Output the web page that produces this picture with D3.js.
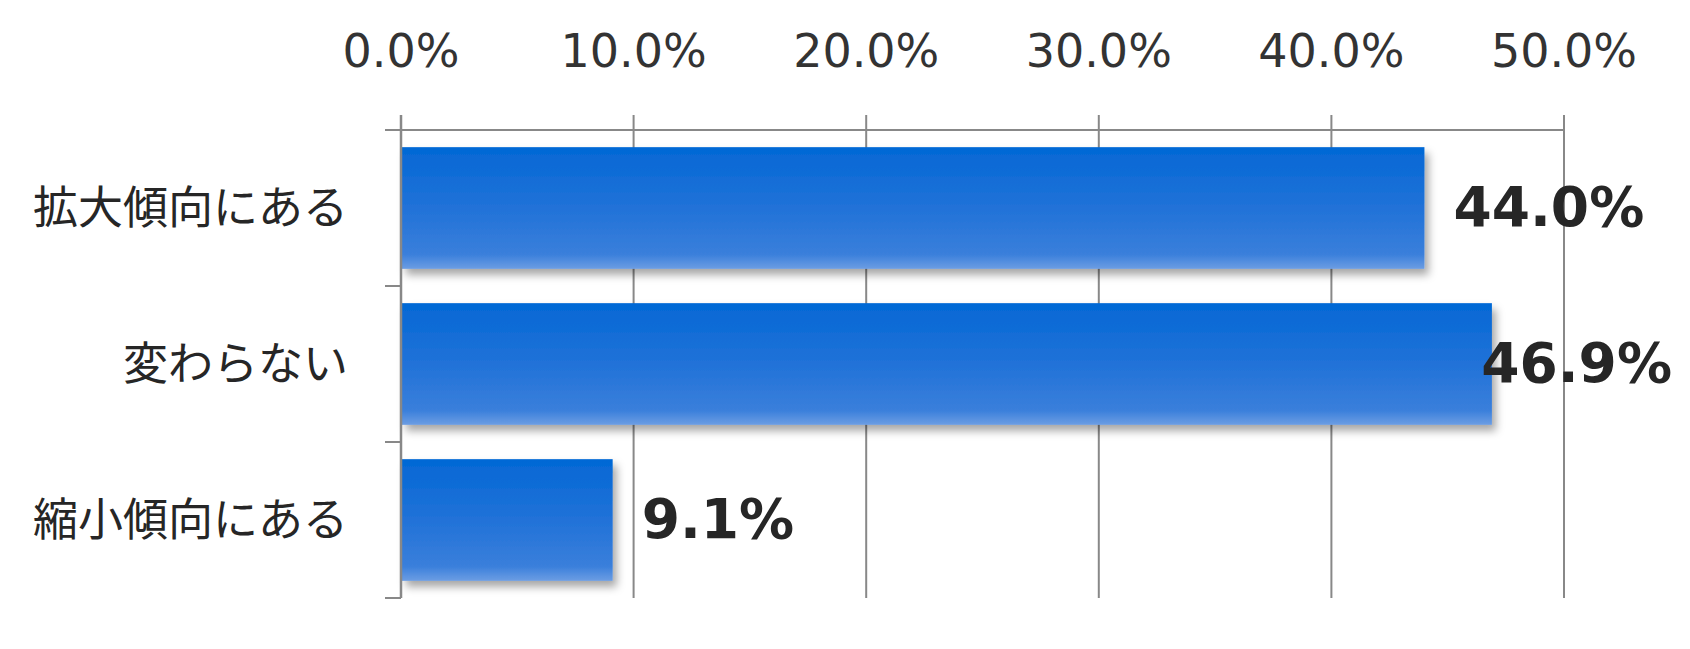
<!DOCTYPE html>
<html>
<head>
<meta charset="utf-8">
<script src="https://cdn.jsdelivr.net/npm/d3@7/dist/d3.min.js"></script>
<style>
  html, body { margin: 0; padding: 0; background: #fff; }
  svg { display: block; }
</style>
</head>
<body>
<svg id="chart" width="1690" height="649"></svg>
<script>
const categories = ["拡大傾向にある", "変わらない", "縮小傾向にある"];
const values = [44.0, 46.9, 9.1];
const tickValues = [0, 10, 20, 30, 40, 50];
const tickLabels = ["0.0%", "10.0%", "20.0%", "30.0%", "40.0%", "50.0%"];

(function () {
const W = 1690, H = 649;
const mLeft = 401, mRight = 1564, mTop = 130, mBottom = 598;
const svg = d3.select("#chart");

const x = d3.scaleLinear().domain([0, 50]).range([mLeft, mRight]);
const y = d3.scaleBand().domain(categories).range([mTop, mBottom]).paddingInner(0.22).paddingOuter(0.11);

const defs = svg.append("defs");
const grad = defs.append("linearGradient").attr("id", "barGrad").attr("x1", 0).attr("y1", 0).attr("x2", 0).attr("y2", 1);
grad.append("stop").attr("offset", "0%").attr("stop-color", "#0368d5");
grad.append("stop").attr("offset", "50%").attr("stop-color", "#2172d8");
grad.append("stop").attr("offset", "88%").attr("stop-color", "#3a7fdb");
grad.append("stop").attr("offset", "100%").attr("stop-color", "#6c9de3");
const f = defs.append("filter").attr("id", "shadow").attr("x", "-5%").attr("y", "-10%").attr("width", "120%").attr("height", "140%");
f.append("feDropShadow").attr("dx", 4).attr("dy", 6).attr("stdDeviation", 4).attr("flood-color", "#000").attr("flood-opacity", 0.35);

const gridColor = "#888888";
svg.append("g").selectAll("line").data(tickValues).join("line")
  .attr("x1", d => x(d)).attr("x2", d => x(d))
  .attr("y1", mTop - 15).attr("y2", mBottom)
  .attr("stroke", gridColor).attr("stroke-width", 2);
svg.append("line").attr("x1", mLeft - 16).attr("x2", mRight).attr("y1", mTop).attr("y2", mTop)
  .attr("stroke", gridColor).attr("stroke-width", 2);
const bandEdges = [mTop].concat(categories.map(c => y(c) + y.bandwidth() + y.step() * y.paddingInner() / 2));
bandEdges[bandEdges.length - 1] = mBottom;
svg.append("g").selectAll("line").data(bandEdges).join("line")
  .attr("x1", mLeft - 16).attr("x2", mLeft).attr("y1", d => d).attr("y2", d => d)
  .attr("stroke", gridColor).attr("stroke-width", 2);

svg.append("g").selectAll("rect").data(values).join("rect")
  .attr("x", x(0) + 1).attr("y", (d, i) => y(categories[i]))
  .attr("width", d => x(d) - x(0) - 1).attr("height", y.bandwidth())
  .attr("fill", "url(#barGrad)").attr("filter", "url(#shadow)");

svg.append("line").attr("x1", mLeft).attr("x2", mLeft).attr("y1", mTop - 15).attr("y2", mBottom)
  .attr("stroke", gridColor).attr("stroke-width", 2.5);

svg.append("g").selectAll("text").data(tickValues).join("text")
  .attr("x", d => x(d)).attr("y", 67)
  .attr("text-anchor", "middle")
  .attr("font-family", "'DejaVu Sans', Verdana, sans-serif").attr("font-size", 46)
  .attr("fill", "#333").text((d, i) => tickLabels[i]);

svg.append("g").selectAll("text").data(categories).join("text")
  .attr("x", 348).attr("y", d => y(d) + y.bandwidth() / 2 + 16)
  .attr("text-anchor", "end")
  .attr("font-family", "'Noto Sans CJK JP', sans-serif").attr("font-size", 45)
  .attr("fill", "#262626").text(d => d);

const labelMaxRight = 1672;
svg.append("g").selectAll("text").data(values).join("text")
  .attr("y", (d, i) => y(categories[i]) + y.bandwidth() / 2 + 18)
  .attr("font-family", "'DejaVu Sans', Verdana, sans-serif").attr("font-weight", "bold").attr("font-size", 55)
  .attr("fill", "#262626").text(d => d.toFixed(1) + "%")
  .each(function(d) {
    const w = this.getComputedTextLength();
    const xs = Math.min(x(d) + 29, labelMaxRight - w);
    d3.select(this).attr("x", xs);
  });
})();
</script>
</body>
</html>
